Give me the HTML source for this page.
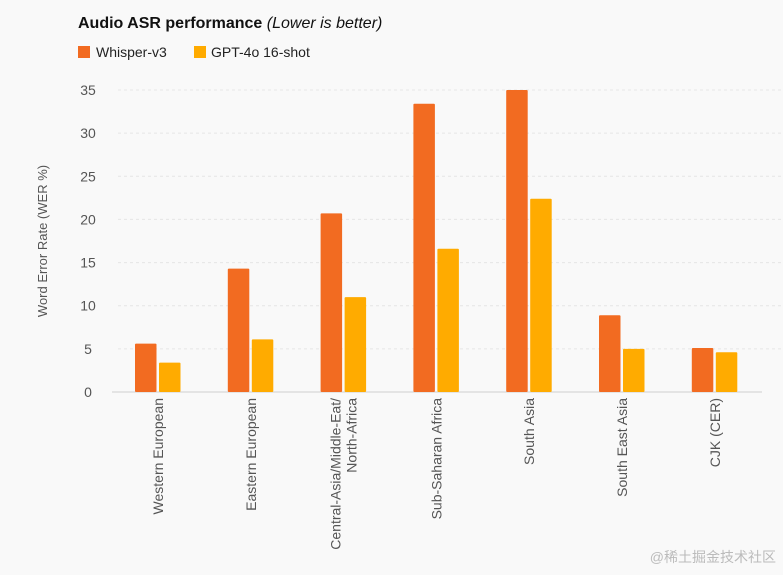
<!DOCTYPE html>
<html><head><meta charset="utf-8"><style>
html,body{margin:0;padding:0;background:#f9f9f9;}
svg{display:block;font-family:"Liberation Sans",sans-serif;}
</style></head><body>
<svg id="chart" width="783" height="575">
<rect width="783" height="575" fill="#f9f9f9"/>
<text x="78" y="28" font-size="16" font-weight="bold" fill="#111">Audio ASR performance <tspan font-weight="normal" font-style="italic">(Lower is better)</tspan></text>
<g>
<rect x="78" y="46" width="12" height="12" fill="#f26b21"/>
<text x="96" y="57" font-size="14" fill="#222">Whisper-v3</text>
<rect x="194" y="46" width="12" height="12" fill="#ffab00"/>
<text x="211" y="57" font-size="14" fill="#222">GPT-4o 16-shot</text>
</g>
<text transform="translate(47,241) rotate(-90)" text-anchor="middle" font-size="13" fill="#555">Word Error Rate (WER %)</text>
<g id="grid"></g><g id="bars"></g><g id="xlabels"></g>
<text x="776" y="562" text-anchor="end" font-size="14" fill="#bbb" font-family="'Liberation Sans','Noto Sans CJK SC',sans-serif">@稀土掘金技术社区</text>
</svg>
<script>
const categories=[["Western European"],["Eastern European"],["Central-Asia/Middle-Eat/","North-Africa"],["Sub-Saharan Africa"],["South Asia"],["South East Asia"],["CJK (CER)"]];
const whisper=[5.6,14.3,20.7,33.4,35.0,8.9,5.1];
const gpt4o=[3.4,6.1,11.0,16.6,22.4,5.0,4.6];
const ticks=[0,5,10,15,20,25,30,35];
const NS="http://www.w3.org/2000/svg";
const y0=392,yTop=90,maxV=35;
const y=v=>y0-(v/maxV)*(y0-yTop);
const x=i=>158+i*92.8;
function mk(t,a,p){const e=document.createElementNS(NS,t);for(const k in a)e.setAttribute(k,a[k]);p.appendChild(e);return e;}
const grid=document.getElementById('grid'),bars=document.getElementById('bars'),xl=document.getElementById('xlabels');
ticks.forEach(t=>{
 if(t>0){const l=mk('line',{x1:118,x2:783,y1:y(t),y2:y(t),stroke:'#e6e6e6','stroke-dasharray':'3,3'},grid);
 
 }
 const tx=mk('text',{x:88,y:y(t)+5,'text-anchor':'middle','font-size':'14',fill:'#555'},grid);tx.textContent=t;
 
 
});
const ax=mk('line',{x1:112,x2:762,y1:y0,y2:y0,stroke:'#ddd','stroke-width':1.5},grid);


categories.forEach((c,i)=>{
 const cx=x(i);
 const b1=mk('rect',{x:cx-23,y:y(whisper[i]),width:21.5,height:y0-y(whisper[i]),fill:'#f26b21',rx:1},bars);
 
 
 const b2=mk('rect',{x:cx+1,y:y(gpt4o[i]),width:21.5,height:y0-y(gpt4o[i]),fill:'#ffab00',rx:1},bars);
 
 
 const n=c.length;
 const t=mk('text',{transform:`translate(${cx},398) rotate(-90)`,'text-anchor':'end','font-size':'14',fill:'#555'},xl);
 
 
 c.forEach((line,j)=>{const s=mk('tspan',{x:0,y:(j-(n-1)/2)*16+5},t);s.textContent=line;});
});
</script>
</body></html>
